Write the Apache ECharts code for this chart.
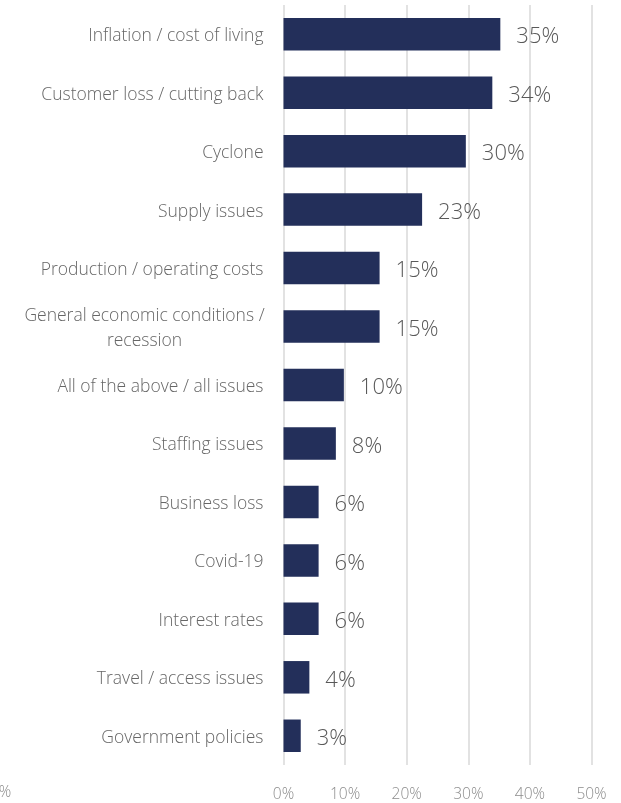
<!DOCTYPE html>
<html>
<head>
<meta charset="utf-8">
<script src="https://cdn.jsdelivr.net/npm/echarts@6/dist/echarts.min.js"></script>
<style>
html,body{margin:0;padding:0;background:#fff;}
#c{width:621px;height:803px;}
</style>
</head>
<body>
<div id="c"></div>
<script>
const categories = [
  "Inflation / cost of living",
  "Customer loss / cutting back",
  "Cyclone",
  "Supply issues",
  "Production / operating costs",
  "General economic conditions /\nrecession",
  "All of the above / all issues",
  "Staffing issues",
  "Business loss",
  "Covid-19",
  "Interest rates",
  "Travel / access issues",
  "Government policies"
];
const values = [35.2, 33.9, 29.6, 22.5, 15.6, 15.6, 9.8, 8.5, 5.7, 5.7, 5.7, 4.2, 2.8];
const valueLabels = ["35%", "34%", "30%", "23%", "15%", "15%", "10%", "8%", "6%", "6%", "6%", "4%", "3%"];
const tickValues = [0, 10, 20, 30, 40, 50];

const FONT = "'Open Sans', 'Noto Sans', sans-serif";
const chart = echarts.init(document.getElementById('c'));
chart.setOption({
  animation: false,
  backgroundColor: '#ffffff',
  grid: { left: 283.5, right: 29.5, top: 5, bottom: 37.5, containLabel: false },
  xAxis: {
    type: 'value',
    min: tickValues[0],
    max: tickValues[tickValues.length - 1],
    interval: 10,
    axisLine: { show: false },
    axisTick: { show: false },
    splitLine: { show: true, lineStyle: { color: '#d9d9d9', width: 1.5 } },
    axisLabel: {
      formatter: v => v + '%',
      color: '#8c8c8c',
      fontFamily: FONT,
      fontSize: 15.5,
      fontWeight: 300,
      margin: 22
    }
  },
  yAxis: {
    type: 'category',
    inverse: true,
    data: categories,
    axisLine: { show: false },
    axisTick: { show: false },
    axisLabel: {
      color: '#666666',
      fontFamily: FONT,
      fontSize: 17.5,
      fontWeight: 300,
      margin: 20,
      lineHeight: 25,
      padding: [4, 0, 0, 0],
      formatter: function (v) {
        if (v.indexOf('\n') >= 0) {
          return v.split('\n').map(s => '{c|' + s + '}').join('\n');
        }
        return v;
      },
      rich: {
        c: {
          width: 238,
          align: 'center',
          color: '#666666',
          fontFamily: FONT,
          fontSize: 17.5,
          fontWeight: 300,
          lineHeight: 25
        }
      }
    }
  },
  series: [{
    type: 'bar',
    data: values,
    barWidth: 32.5,
    itemStyle: { color: '#232f5a' },
    label: {
      show: true,
      position: 'right',
      distance: 16,
      offset: [0, 3],
      color: '#595959',
      fontFamily: FONT,
      fontSize: 22,
      fontWeight: 300,
      formatter: p => valueLabels[p.dataIndex]
    }
  }],
  graphic: [{
    type: 'text',
    left: -10,
    top: 785,
    style: { text: '0%', fill: '#8c8c8c', font: '300 15.5px ' + FONT }
  }]
});
</script>
</body>
</html>
